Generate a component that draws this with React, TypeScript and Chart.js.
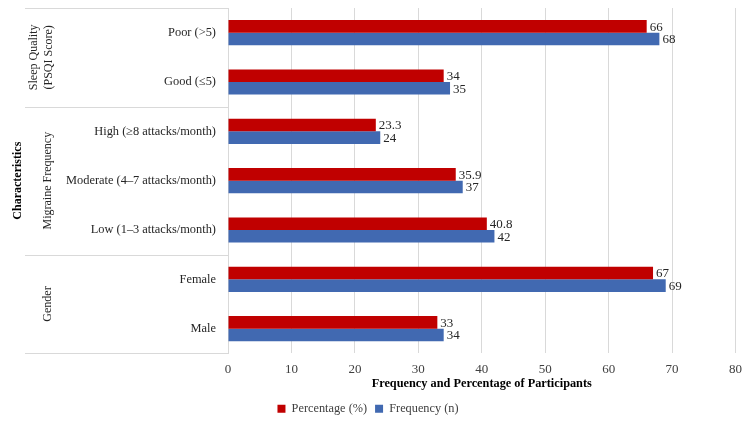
import React, { useEffect, useRef } from "react";
import { Chart, registerables } from "chart.js";

Chart.register(...registerables);

const categories = [
  "Poor (>5)",
  "Good (≤5)",
  "High (≥8 attacks/month)",
  "Moderate (4–7 attacks/month)",
  "Low (1–3 attacks/month)",
  "Female",
  "Male",
];
const percentage = [66, 34, 23.3, 35.9, 40.8, 67, 33];
const frequency = [68, 35, 24, 37, 42, 69, 34];
const groups = [
  { lines: ["Sleep Quality", "(PSQI Score)"], start: 0, end: 1 },
  { lines: ["Migraine Frequency"], start: 2, end: 4 },
  { lines: ["Gender"], start: 5, end: 6 },
];
const xTicks = [0, 10, 20, 30, 40, 50, 60, 70, 80];

const FONT = "'Liberation Serif', 'Times New Roman', serif";
const RED = "#C00000";
const BLUE = "#4169B1";

const sidePlugin = {
  id: "sidePlugin",
  afterDraw(chart: any) {
    const { ctx, chartArea, scales } = chart;
    const y = scales.y;
    const x0 = 25;
    const step = (chartArea.bottom - chartArea.top) / categories.length;
    ctx.save();
    ctx.strokeStyle = "#D9D9D9";
    ctx.lineWidth = 1;
    const bounds = [chartArea.top];
    groups.forEach((g) => bounds.push(chartArea.top + (g.end + 1) * step));
    bounds.forEach((b) => {
      const yy = Math.round(b) + 0.5;
      ctx.beginPath();
      ctx.moveTo(x0, yy);
      ctx.lineTo(chartArea.left, yy);
      ctx.stroke();
    });
    ctx.fillStyle = "#262626";
    ctx.font = `12px ${FONT}`;
    ctx.textAlign = "center";
    ctx.textBaseline = "middle";
    groups.forEach((g) => {
      const cy = (y.getPixelForValue(g.start) + y.getPixelForValue(g.end)) / 2;
      const n = g.lines.length;
      g.lines.forEach((ln, i) => {
        const cx = n === 1 ? 48 : 34 + i * 15;
        ctx.save();
        ctx.translate(cx, cy);
        ctx.rotate(-Math.PI / 2);
        ctx.fillText(ln, 0, 0);
        ctx.restore();
      });
    });
    ctx.font = `bold 12px ${FONT}`;
    ctx.fillStyle = "#000";
    ctx.save();
    ctx.translate(18, (chartArea.top + chartArea.bottom) / 2);
    ctx.rotate(-Math.PI / 2);
    ctx.fillText("Characteristics", 0, 0);
    ctx.restore();

    // data labels
    ctx.font = `13px ${FONT}`;
    ctx.fillStyle = "#262626";
    ctx.textAlign = "left";
    ctx.textBaseline = "middle";
    chart.data.datasets.forEach((ds: any, di: number) => {
      const meta = chart.getDatasetMeta(di);
      meta.data.forEach((el: any, i: number) => {
        ctx.fillText(String(ds.data[i]), el.x + 3, el.y + 1);
      });
    });
    ctx.restore();
  },
};

export default function App() {
  const ref = useRef<HTMLCanvasElement>(null);
  useEffect(() => {
    const chart = new Chart(ref.current!, {
      type: "bar",
      data: {
        labels: categories,
        datasets: [
          { label: "Percentage (%)", data: percentage, backgroundColor: RED, barPercentage: 1, categoryPercentage: 0.51 },
          { label: "Frequency (n)", data: frequency, backgroundColor: BLUE, barPercentage: 1, categoryPercentage: 0.51 },
        ],
      },
      options: {
        indexAxis: "y",
        animation: false,
        responsive: false,
        maintainAspectRatio: false,
        layout: { padding: { left: 0, right: 14, top: 8, bottom: -3 } },
        plugins: {
          legend: {
            position: "bottom",
            labels: {
              font: { family: FONT, size: 12.3 },
              color: "#404040",
              boxWidth: 8,
              boxHeight: 8,
              padding: 8,
            },
          },
          tooltip: { enabled: false },
        },
        scales: {
          x: {
            min: 0,
            max: 80,
            afterBuildTicks: (s: any) => {
              s.ticks = xTicks.map((v) => ({ value: v }));
            },
            grid: { color: "#D9D9D9", drawTicks: false },
            border: { display: false },
            ticks: { font: { family: FONT, size: 13 }, color: "#404040", padding: 8 },
            title: {
              display: true,
              text: "Frequency and Percentage of Participants",
              font: { family: FONT, size: 12.3, weight: "bold" },
              color: "#000",
              padding: { top: -8, bottom: 3 },
            },
          },
          y: {
            grid: { display: false, drawTicks: false },
            border: { display: true, color: "#D9D9D9" },
            ticks: { font: { family: FONT, size: 12.4 }, color: "#262626", padding: 12 },
            afterFit: (s: any) => {
              s.width = 228;
              s.paddingTop = 0;
              s.paddingBottom = 0;
            },
          },
        },
      },
      plugins: [sidePlugin],
    });
    return () => chart.destroy();
  }, []);
  return (
    <div style={{ position: "fixed", left: 0, top: 0, width: 750, height: 422, background: "#fff" }}>
      <canvas ref={ref} width={750} height={422} style={{ width: 750, height: 422 }} />
    </div>
  );
}
